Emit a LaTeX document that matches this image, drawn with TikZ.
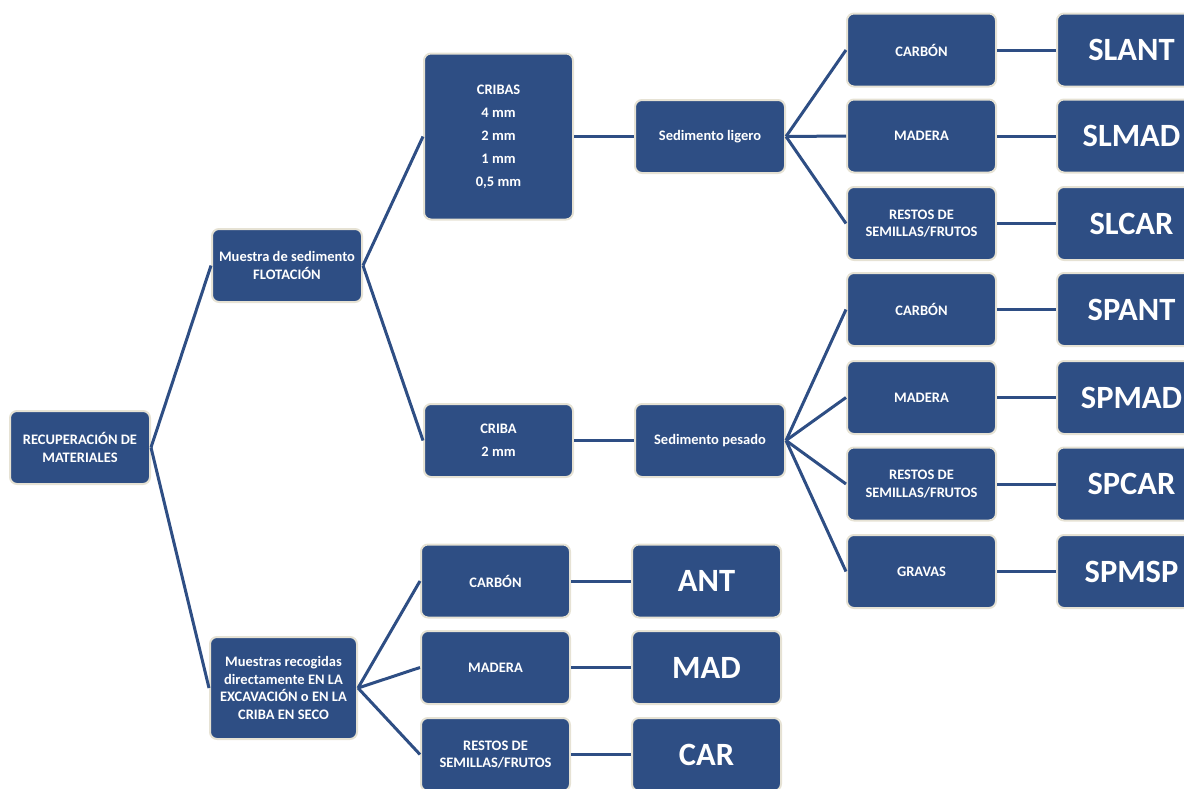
\documentclass[tikz,border=0pt]{standalone}
\usepackage{fontspec}
\setmainfont{Carlito}
\definecolor{boxblue}{RGB}{46,78,132}
\definecolor{boxedge}{RGB}{230,226,212}
\tikzset{
  box/.style={draw=boxedge, line width=2pt, fill=boxblue, rounded corners=7pt,
    text=white, font=\bfseries\fontsize{14.5}{17.5}\selectfont, align=center,
    inner sep=2pt, minimum width=149pt, minimum height=73pt},
  code/.style={box, font=\bfseries\fontsize{32.5}{36}\selectfont},
  link/.style={draw=boxblue, line width=3pt}
}
\begin{document}
\begin{tikzpicture}[x=1pt,y=-1pt]
\useasboundingbox (0,0) rectangle (1184,788);
% level 0
\node[box, minimum width=140pt] (root) at (80,447.5) {RECUPERACIÓN DE\\MATERIALES};
% level 1
\node[box, minimum width=150pt] (mf) at (287,265.5) {Muestra de sedimento\\FLOTACIÓN};
\node[box, minimum width=147pt, minimum height=102pt] (mr) at (283.5,688) {Muestras recogidas\\directamente EN LA\\EXCAVACIÓN o EN LA\\CRIBA EN SECO};
% level 2
\node[box, minimum height=166pt, font=\bfseries\fontsize{14.5}{23}\selectfont] (cribas) at (498.5,136.5) {CRIBAS\\4 mm\\2 mm\\1 mm\\0,5 mm};
\node[box, font=\bfseries\fontsize{14.5}{23}\selectfont] (criba) at (498.5,440.5) {CRIBA\\2 mm};
\node[box] (bc) at (495.5,581) {CARBÓN};
\node[box] (bm) at (495.5,667.5) {MADERA};
\node[box] (br) at (495.5,754.5) {RESTOS DE\\SEMILLAS/FRUTOS};
% level 3
\node[box, minimum width=150pt] (sl) at (710,136.5) {Sedimento ligero};
\node[box, minimum width=150pt] (sp) at (710,440.5) {Sedimento pesado};
\node[code] (ant) at (706.5,581) {ANT};
\node[code] (mad) at (706.5,667.5) {MAD};
\node[code] (car) at (706.5,754.5) {CAR};
% level 4
\node[box] (c1) at (921.5,50) {CARBÓN};
\node[box] (c2) at (921.5,136) {MADERA};
\node[box] (c3) at (921.5,223.5) {RESTOS DE\\SEMILLAS/FRUTOS};
\node[box] (c4) at (921.5,309.5) {CARBÓN};
\node[box] (c5) at (921.5,397.5) {MADERA};
\node[box] (c6) at (921.5,484) {RESTOS DE\\SEMILLAS/FRUTOS};
\node[box] (c7) at (921.5,571.5) {GRAVAS};
% level 5
\node[code] (d1) at (1131.5,50) {SLANT};
\node[code] (d2) at (1131.5,136) {SLMAD};
\node[code] (d3) at (1131.5,223.5) {SLCAR};
\node[code] (d4) at (1131.5,309.5) {SPANT};
\node[code] (d5) at (1131.5,397.5) {SPMAD};
\node[code] (d6) at (1131.5,484) {SPCAR};
\node[code] (d7) at (1131.5,571.5) {SPMSP};
% connectors
\draw[link] (root.east) -- (mf.west);
\draw[link] (root.east) -- (mr.west);
\draw[link] (mf.east) -- (cribas.west);
\draw[link] (mf.east) -- (criba.west);
\draw[link] (cribas.east) -- (sl.west);
\draw[link] (criba.east) -- (sp.west);
\foreach \n in {c1,c2,c3} \draw[link] (sl.east) -- (\n.west);
\foreach \n in {c4,c5,c6,c7} \draw[link] (sp.east) -- (\n.west);
\foreach \a/\b in {c1/d1,c2/d2,c3/d3,c4/d4,c5/d5,c6/d6,c7/d7} \draw[link] (\a.east) -- (\b.west);
\draw[link] (mr.east) -- (bc.west);
\draw[link] (mr.east) -- (bm.west);
\draw[link] (mr.east) -- (br.west);
\draw[link] (bc.east) -- (ant.west);
\draw[link] (bm.east) -- (mad.west);
\draw[link] (br.east) -- (car.west);
\end{tikzpicture}
\end{document}
